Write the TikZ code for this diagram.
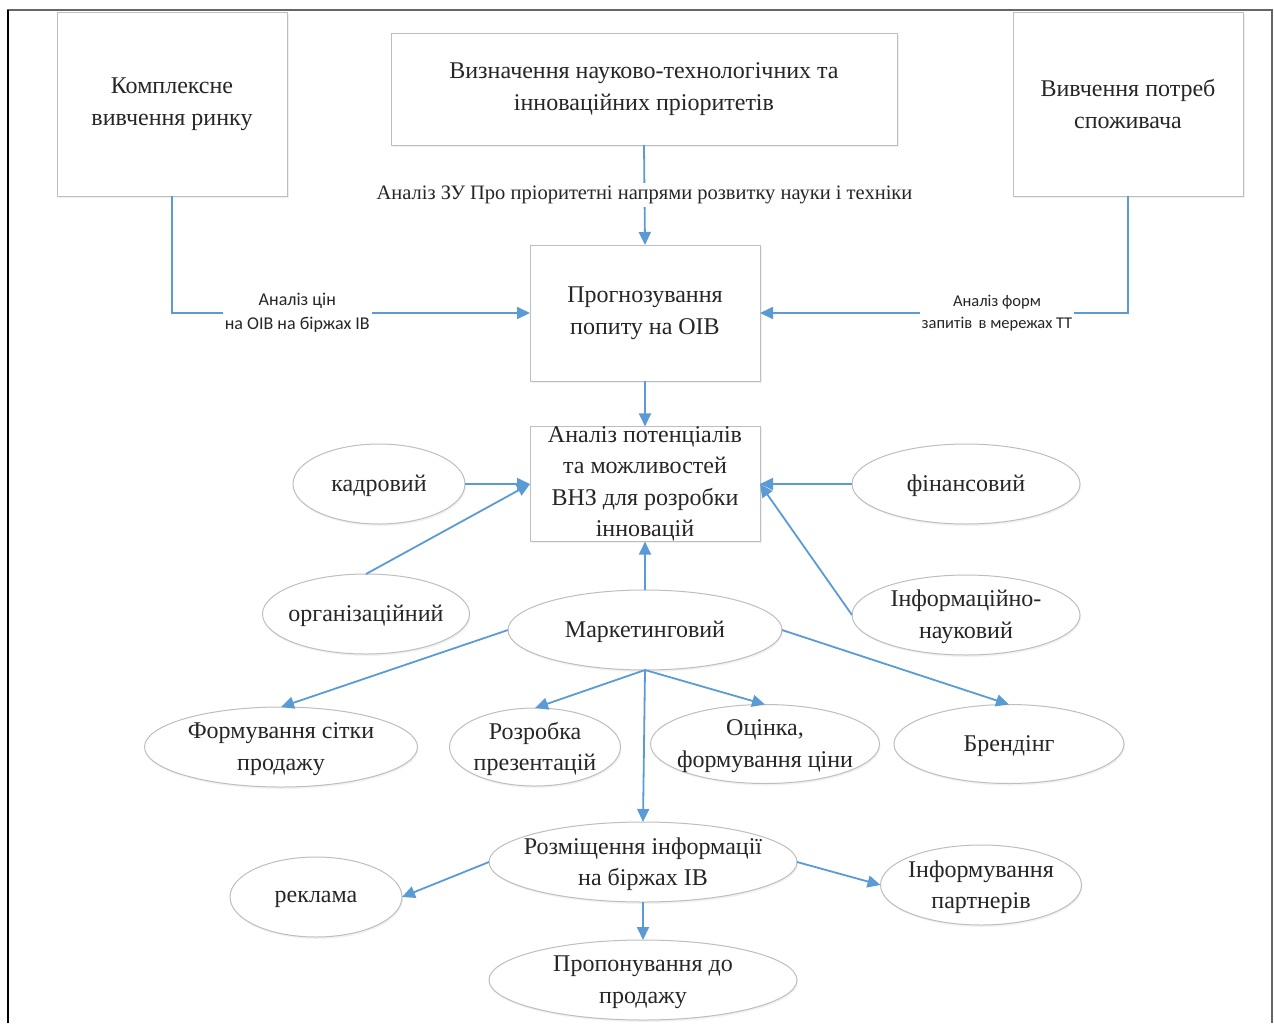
\documentclass[tikz,border=0pt]{standalone}
\usepackage{fontspec}
\setmainfont{Liberation Serif}
\newfontfamily\lblfont{Carlito}
\usetikzlibrary{arrows.meta,shadows,shapes.geometric}
\definecolor{lnblue}{RGB}{91,155,213}
\definecolor{bordergray}{RGB}{190,190,190}
\begin{document}
\begin{tikzpicture}[x=1pt,y=-1pt,
  every node/.style={inner sep=0pt, outer sep=0pt},
  txt/.style={font=\fontsize{24}{31.5}\selectfont, align=center, text=black!85},
  etxt/.style={txt, yshift=-2pt},
  rbox/.style={txt, draw=bordergray, line width=1pt, fill=white, drop shadow={shadow xshift=1.5pt, shadow yshift=-1.5pt, fill=black!12}},
  ell/.style={ellipse, draw=bordergray, line width=1pt, fill=white, drop shadow={shadow xshift=1pt, shadow yshift=-2pt, fill=black!10}},
  conn/.style={draw=lnblue, line width=1.8pt, -{Triangle[length=13pt,width=12pt]}},
  lbl/.style={fill=white, align=center, inner sep=2pt, text=black!85},
  lblA/.style={lbl, font=\lblfont\fontsize{18}{24}\selectfont},
  lblC/.style={lbl, font=\lblfont\fontsize{16.5}{22}\selectfont},
  lblB/.style={lbl, font=\fontsize{20.5}{24}\selectfont, inner sep=3pt}
]
\useasboundingbox (0,0) rectangle (1274,1023);
% outer frame
\draw[black!60, line width=2pt] (8,1023) -- (8,10) -- (1272,10) -- (1272,1023);
\draw[black, line width=2pt] (8,1023) -- (8,10);

% boxes
\node[rbox, minimum width=230pt, minimum height=184pt] (A) at (172,104) {Комплексне\\вивчення ринку};
\node[rbox, minimum width=506pt, minimum height=112pt] (B) at (644,89) {Визначення науково-технологічних та\\інноваційних пріоритетів};
\node[rbox, minimum width=230pt, minimum height=184pt] (C) at (1128,104) {Вивчення потреб\\споживача};
\node[rbox, minimum width=230pt, minimum height=136pt] (D) at (645,313) {Прогнозування\\попиту на ОІВ};
\node[rbox, minimum width=230pt, minimum height=114pt] (E) at (645,484) {Аналіз потенціалів\\та можливостей\\ВНЗ для розробки\\інновацій};

% ellipses (text placed as centred label so the ellipse keeps its size)
\node[ell, minimum width=172pt, minimum height=80pt, label={[etxt]center:кадровий}] (kadr) at (379,484) {};
\node[ell, minimum width=228pt, minimum height=80pt, label={[etxt]center:фінансовий}] (fin) at (966,484) {};
\node[ell, minimum width=207pt, minimum height=80pt, label={[etxt]center:організаційний}] (org) at (366,614) {};
\node[ell, minimum width=274pt, minimum height=80pt, label={[etxt]center:Маркетинговий}] (mark) at (645,630) {};
\node[ell, minimum width=228pt, minimum height=80pt, label={[etxt]center:{Інформаційно-\\науковий}}] (info) at (966,615) {};
\node[ell, minimum width=273pt, minimum height=80pt, label={[etxt]center:{Формування сітки\\продажу}}] (form) at (281,747) {};
\node[ell, minimum width=171pt, minimum height=78pt, label={[etxt]center:{Розробка\\презентацій}}] (rozr) at (535,747) {};
\node[ell, minimum width=229pt, minimum height=79pt, label={[etxt]center:{Оцінка,\\формування ціни}}] (ocin) at (765,744) {};
\node[ell, minimum width=230pt, minimum height=79pt, label={[etxt]center:Брендінг}] (brend) at (1009,744) {};
\node[ell, minimum width=308pt, minimum height=80pt, label={[etxt]center:{Розміщення інформації\\на біржах ІВ}}] (rozm) at (643,862) {};
\node[ell, minimum width=172pt, minimum height=80pt, label={[etxt]center:реклама}] (rekl) at (316,897) {};
\node[ell, minimum width=201pt, minimum height=80pt, label={[etxt]center:{Інформування\\партнерів}}] (infp) at (981,885) {};
\node[ell, minimum width=308pt, minimum height=80pt, label={[etxt]center:{Пропонування до\\продажу}}] (prop) at (643,980) {};

% connectors
\draw[conn] (A.south) |- (D.west) node[lblA, pos=0.675] {Аналіз цін\\на ОІВ на біржах ІВ};
\draw[conn] (C.south) |- (D.east) node[lblC, pos=0.678] {Аналіз форм\\запитів\, в мережах ТТ};
\draw[conn] (B.south) -- (D.north) node[lblB, pos=0.5] {Аналіз ЗУ Про пріоритетні напрями розвитку науки і техніки};
\draw[conn] (D.south) -- (E.north);
\draw[conn] (kadr.east) -- (E.west);
\draw[conn] (org.north) -- (E.west);
\draw[conn] (fin.west) -- (E.east);
\draw[conn] (info.west) -- (E.east);
\draw[conn] (mark.north) -- (E.south);
\draw[conn] (mark.west) -- (form.north);
\draw[conn] (mark.south) -- (rozr.north);
\draw[conn] (mark.south) -- (ocin.north);
\draw[conn] (mark.south) -- (rozm.north);
\draw[conn] (mark.east) -- (brend.north);
\draw[conn] (rozm.west) -- (rekl.east);
\draw[conn] (rozm.east) -- (infp.west);
\draw[conn] (rozm.south) -- (prop.north);
\end{tikzpicture}
\end{document}
